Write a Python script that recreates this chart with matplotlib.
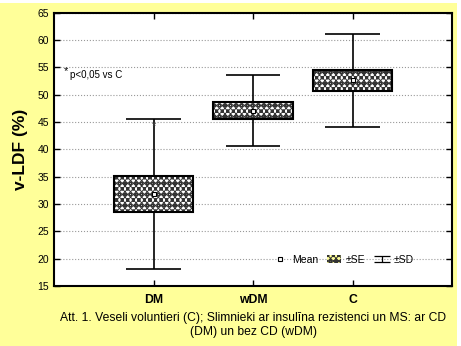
import matplotlib
matplotlib.use('Agg')
import matplotlib.pyplot as plt
import matplotlib.patches as patches
from matplotlib.lines import Line2D
from matplotlib.path import Path
import numpy as np

# 数据
groups = ['DM', 'wDM', 'C']
means = [31.8, 47.1, 52.6]
se = [3.3, 1.5, 2.0]
sd = [13.7, 6.5, 8.5]
y_ticks = [15, 20, 25, 30, 35, 40, 45, 50, 55, 60, 65]
caption = ("Att. 1. Veseli voluntieri (C); Slimnieki ar insulīna rezistenci un MS: ar CD\n"
           "(DM) un bez CD (wDM)")
star_groups = ['DM']

plt.rcParams['font.family'] = ['Liberation Sans', 'DejaVu Sans']
plt.rcParams['hatch.linewidth'] = 0.65

HATCH = 'xxxxxxooo'
W, H = 461, 346
fig = plt.figure(figsize=(W / 100, H / 100), dpi=100)
fig.patch.set_facecolor('#FFFF99')

# 上边和右边的白条
fig.patches.append(patches.Rectangle((0, 1 - 3 / H), 1, 3 / H, transform=fig.transFigure,
                                     facecolor='white', edgecolor='none', zorder=0))
fig.patches.append(patches.Rectangle((1 - 4 / W, 0), 4 / W, 1, transform=fig.transFigure,
                                     facecolor='white', edgecolor='none', zorder=0))

ax = fig.add_axes([54 / W, (H - 286) / H, 398 / W, (286 - 12.7) / H])
ax.set_facecolor('white')

x = np.arange(1, len(groups) + 1)
means = np.array(means)
se = np.array(se)
sd = np.array(sd)

# ±SD 须线
ax.vlines(x, means - sd, means + sd, color='black', lw=1.2, zorder=2)
ax.hlines(means - sd, x - 0.275, x + 0.275, color='black', lw=1.2, zorder=2)
ax.hlines(means + sd, x - 0.275, x + 0.275, color='black', lw=1.2, zorder=2)

# ±SE 箱体
ax.bar(x, 2 * se, bottom=means - se, width=0.8, color='white', edgecolor='#333333',
       hatch=HATCH, linewidth=0, zorder=3)
ax.bar(x, 2 * se, bottom=means - se, width=0.8, fill=False, edgecolor='black',
       linewidth=1.5, zorder=4)

# 均值
ax.plot(x, means, 's', ms=3.5, mfc='white', mec='black', mew=0.8, zorder=5)

# 星号
for g in star_groups:
    i = groups.index(g)
    ax.text(x[i], means[i] + sd[i] - 1.3, '*', ha='center', va='center',
            fontsize=8, color='#444444', zorder=5)

ax.text(0.12, 54.3, '*', ha='center', va='center', fontsize=8)
ax.text(0.16, 53.6, 'p<0,05 vs C', ha='left', va='center', fontsize=7)

ax.set_xlim(0, 4)
ax.set_ylim(15, 65)
ax.set_yticks(y_ticks)
ax.set_xticks(x)
ax.tick_params(axis='both', direction='in', length=4, width=1, top=True, right=True)
ax.tick_params(axis='y', labelsize=7.5)
ax.tick_params(axis='x', pad=6)
ax.set_xticklabels(groups, fontweight='bold', fontsize=8.8)
ax.grid(axis='y', linestyle=':', color='#999999', lw=0.8)
ax.set_axisbelow(True)
for s in ax.spines.values():
    s.set_linewidth(1.5)

ax.set_ylabel('v-LDF (%)', fontsize=12.5, fontweight='bold', labelpad=7)

# 图例
sd_marker = Path([(-1, 0.4), (1, 0.4), (0, 0.4), (0, -0.4), (-1, -0.4), (1, -0.4)],
                 [Path.MOVETO, Path.LINETO, Path.MOVETO, Path.LINETO, Path.MOVETO, Path.LINETO])
handles = [
    Line2D([], [], marker='s', ls='none', ms=3.5, mfc='white', mec='black', mew=0.8),
    patches.Patch(facecolor='#FFFF99', edgecolor='#333333', hatch=HATCH, lw=0),
    Line2D([], [], marker=sd_marker, ls='none', ms=11, mec='black', mew=0.9),
]
ax.legend(handles, ['Mean', '±SE', '±SD'], loc='center', bbox_to_anchor=(0.727, 0.096),
          ncol=3, frameon=False, fontsize=7.5, handlelength=1.3, handleheight=0.9,
          handletextpad=0.5, columnspacing=0.9)

fig.text(253 / W, 1 - 325 / H, caption, ha='center', va='center', fontsize=8.7,
         linespacing=1.15)

fig.savefig('out.png', dpi=100, facecolor=fig.get_facecolor())
